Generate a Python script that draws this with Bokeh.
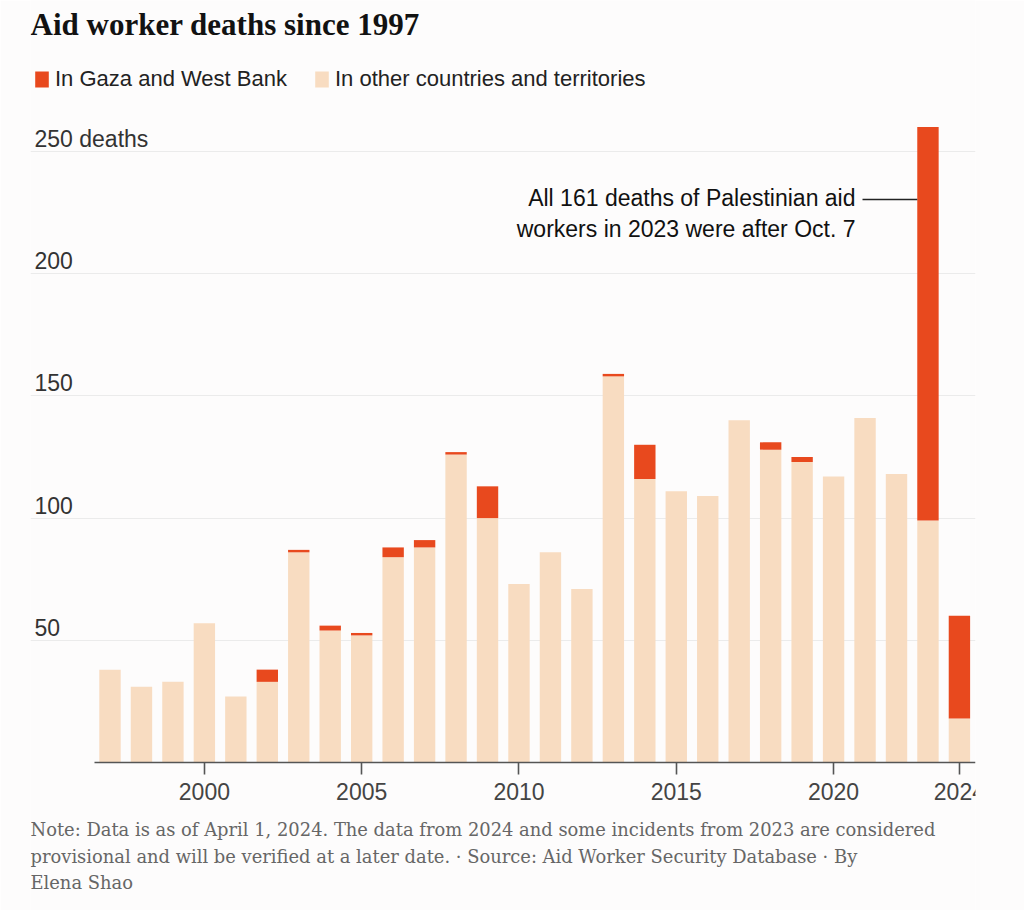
from bokeh.plotting import figure
from bokeh.models import (ColumnDataSource, FixedTicker, Label, Legend, LegendItem,
                          Range1d, Grid)
from bokeh.embed import file_html
from bokeh.resources import INLINE
from bokeh.core.properties import value

# ---------------- data ----------------
years = list(range(1997, 2025))
other = [38, 31, 33, 57, 27, 33, 86, 54, 52, 84, 88, 126, 100, 73, 86, 71,
         158, 116, 111, 109, 140, 128, 123, 117, 141, 118, 99, 18]
gaza = [0, 0, 0, 0, 0, 5, 1, 2, 1, 4, 3, 1, 13, 0, 0, 0,
        1, 14, 0, 0, 0, 3, 2, 0, 0, 0, 161, 42]
y_ticks = [50, 100, 150, 200, 250]
y_tick_labels = ["50", "100", "150", "200", "250 deaths"]
x_ticks = [2000, 2005, 2010, 2015, 2020, 2024]

title_text = "Aid worker deaths since 1997"
legend_labels = ["In Gaza and West Bank", "In other countries and territories"]
note_lines = [
    "Note: Data is as of April 1, 2024. The data from 2024 and some incidents from 2023 are considered",
    "provisional and will be verified at a later date.  \u00b7  Source: Aid Worker Security Database  \u00b7  By",
    "Elena Shao",
]
annot_lines = ["All 161 deaths of Palestinian aid", "workers in 2023 were after Oct. 7"]

ORANGE = "#e8491e"
BEIGE = "#f8dcc1"
BG = "#fdfcfc"

# pixel <-> data helpers (layout only)
W, H = 1024, 910
PX_PER_YEAR = 31.46
X0_PX = 109.5
PX_PER_UNIT = 2.444
BASE_PX = 762


def xd(px):
    return 1997 + (px - X0_PX) / PX_PER_YEAR


def yd(py):
    return (BASE_PX - py) / PX_PER_UNIT


p = figure(width=W, height=H, output_backend="svg", toolbar_location=None,
           x_range=Range1d(xd(30), xd(975)), y_range=Range1d(yd(H), yd(0)),
           y_axis_location=None,
           min_border_left=30, min_border_right=49, min_border_top=0,
           min_border_bottom=0)
p.background_fill_color = BG
p.border_fill_color = BG
p.outline_line_color = None
p.xgrid.visible = False
p.ygrid.visible = False
p.add_layout(Grid(dimension=1, ticker=FixedTicker(ticks=y_ticks),
                  grid_line_color="#ebebeb", grid_line_width=1.2))

src = ColumnDataSource(dict(year=years, other=other, gaza=gaza))
rs = p.vbar_stack(["other", "gaza"], x="year", width=0.68, color=[BEIGE, ORANGE],
                  line_color=None, source=src)

ax = p.xaxis[0]
ax.fixed_location = 0
ax.ticker = FixedTicker(ticks=x_ticks)
ax.bounds = (1996.5, 2024.5)
ax.axis_line_color = "#555555"
ax.axis_line_width = 1.6
ax.major_tick_line_color = "#555555"
ax.major_tick_line_width = 1.6
ax.major_tick_out = 12
ax.major_tick_in = 0
ax.minor_tick_out = 0
ax.minor_tick_in = 0
ax.major_label_text_font = "Liberation Sans"
ax.major_label_text_font_size = "23px"
ax.major_label_text_color = "#444444"
ax.major_label_standoff = 8

# y labels
ysrc = ColumnDataSource(dict(x=[xd(34)] * len(y_ticks), y=y_ticks, t=y_tick_labels))
p.text(x="x", y="y", text="t", source=ysrc, text_font=value("Liberation Sans"),
       text_font_size="23px", text_color="#333333", text_baseline="middle",
       text_align="left", y_offset=-13)

# legend
legend = Legend(items=[LegendItem(label=legend_labels[0], renderers=[rs[1]]),
                       LegendItem(label=legend_labels[1], renderers=[rs[0]])],
                orientation="horizontal", location=(3, H - 92),
                glyph_width=17, glyph_height=20, label_standoff=5, spacing=26,
                padding=0, margin=0, border_line_color=None, background_fill_alpha=0,
                label_text_font="Liberation Sans", label_text_font_size="22px",
                label_text_color="#222222", label_height=20)
p.add_layout(legend)

# title
p.add_layout(Label(x=xd(30), y=yd(24), text=title_text, text_font="Liberation Serif",
                   text_font_style="bold", text_font_size="31px", text_color="#121212",
                   text_baseline="middle"))

# annotation
p.add_layout(Label(x=xd(855), y=yd(197), text=annot_lines[0], text_align="right",
                   text_baseline="middle", text_font="Liberation Sans",
                   text_font_size="23px", text_color="#111111"))
p.add_layout(Label(x=xd(855), y=yd(228), text=annot_lines[1], text_align="right",
                   text_baseline="middle", text_font="Liberation Sans",
                   text_font_size="23px", text_color="#111111"))
p.segment(x0=[xd(862)], y0=[yd(199)], x1=[2023 - 0.34], y1=[yd(199)],
          line_color="#222222", line_width=1.4)

# footer
for i, line in enumerate(note_lines):
    p.add_layout(Label(x=xd(30), y=yd(829 + 26.5 * i), text=line, text_baseline="middle",
                       text_font="DejaVu Serif", text_font_size="17.9px",
                       text_color="#666666"))

open("out.html", "w").write(file_html(p, INLINE))
